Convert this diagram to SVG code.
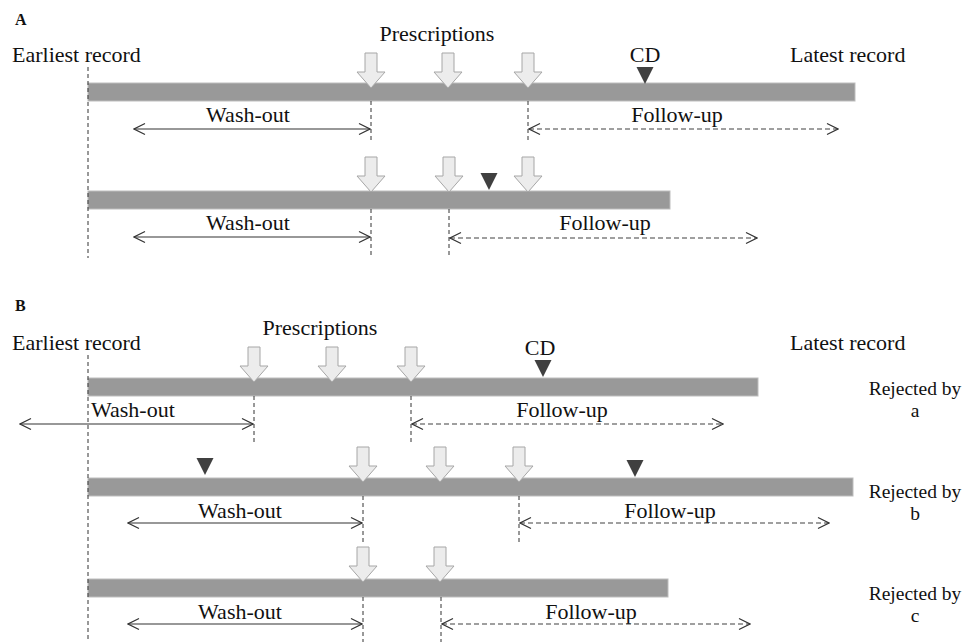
<svg xmlns="http://www.w3.org/2000/svg" width="972" height="642" viewBox="0 0 972 642" font-family="'Liberation Serif', 'DejaVu Serif', serif">
<style>
text{font-family:'Liberation Serif','Times New Roman',serif;fill:#111;font-size:22px}
.lbl{font-weight:bold;font-size:16px}
.rej{font-size:19.5px;text-anchor:middle}
.mid{text-anchor:middle}
.bar{fill:#999999;stroke:#bdbdbd;stroke-width:1}
.pres{fill:#ececec;stroke:#a6a6a6;stroke-width:1}
.cd{fill:#404040}
.vd{stroke:#333;stroke-width:1;stroke-dasharray:4,3;fill:none}
.ws{stroke:#333;stroke-width:1.2;fill:none}
.fu{stroke:#404040;stroke-width:1.2;stroke-dasharray:5,3;fill:none}
</style>
<defs>
<path id="parrow" class="pres" d="M-6,0 H6 V19 H14 L0,35 L-14,19 H-6 Z"/>
<path id="tri" class="cd" d="M-8.5,0 H8.5 L0,17 Z"/>
<marker id="ah" viewBox="0 0 14 14" refX="13" refY="7" markerWidth="14" markerHeight="14" markerUnits="userSpaceOnUse" orient="auto-start-reverse">
<path d="M2,1.5 L13,7 L2,12.5" fill="none" stroke="#333" stroke-width="1.2"/>
</marker>
</defs>
<rect width="972" height="642" fill="#ffffff"/>

<g id="panelA-labels">
<text class="lbl" x="15" y="25">A</text>
<text x="437" y="41" class="mid">Prescriptions</text>
<text x="12" y="62">Earliest record</text>
<text x="790" y="62">Latest record</text>
</g>

<g id="A1">
<rect class="bar" x="88" y="83" width="767" height="18"/>
<use href="#parrow" x="371" y="53"/>
<use href="#parrow" x="448" y="53"/>
<use href="#parrow" x="528" y="53"/>
<use href="#tri" x="645" y="67"/>
<text x="645" y="62" class="mid">CD</text>
<text x="248" y="122" class="mid">Wash-out</text>
<text x="677" y="122" class="mid">Follow-up</text>
</g>

<g id="A2">
<rect class="bar" x="88" y="191" width="582" height="18"/>
<use href="#parrow" x="371" y="157"/>
<use href="#parrow" x="449" y="157"/>
<use href="#parrow" x="528" y="157"/>
<use href="#tri" x="489" y="173"/>
<text x="248" y="230" class="mid">Wash-out</text>
<text x="605" y="230" class="mid">Follow-up</text>
</g>

<g id="panelB-labels">
<text class="lbl" x="15" y="311">B</text>
<text x="320" y="335" class="mid">Prescriptions</text>
<text x="12" y="350">Earliest record</text>
<text x="790" y="350">Latest record</text>
</g>

<g id="B1">
<rect class="bar" x="88" y="378" width="670" height="18"/>
<use href="#parrow" x="254" y="347"/>
<use href="#parrow" x="332" y="347"/>
<use href="#parrow" x="411" y="347"/>
<use href="#tri" x="543" y="360"/>
<text x="540" y="355" class="mid">CD</text>
<text x="91" y="417">Wash-out</text>
<text x="562" y="417" class="mid">Follow-up</text>
<text x="915" y="395" class="rej">Rejected by</text>
<text x="915" y="417" class="rej">a</text>
</g>

<g id="B2">
<rect class="bar" x="88" y="478" width="765" height="18"/>
<use href="#parrow" x="363" y="447"/>
<use href="#parrow" x="440" y="447"/>
<use href="#parrow" x="519" y="447"/>
<use href="#tri" x="205" y="458"/>
<use href="#tri" x="635" y="460"/>
<text x="240" y="518" class="mid">Wash-out</text>
<text x="670" y="518" class="mid">Follow-up</text>
<text x="915" y="498" class="rej">Rejected by</text>
<text x="915" y="520" class="rej">b</text>
</g>

<g id="B3">
<rect class="bar" x="88" y="579" width="580" height="18"/>
<use href="#parrow" x="363" y="547"/>
<use href="#parrow" x="440" y="547"/>
<text x="240" y="619" class="mid">Wash-out</text>
<text x="591" y="619" class="mid">Follow-up</text>
<text x="915" y="600" class="rej">Rejected by</text>
<text x="915" y="622" class="rej">c</text>
</g>

<g id="connectors">
<line class="vd" x1="88" y1="67" x2="88" y2="258"/>
<line class="vd" x1="371" y1="101" x2="371" y2="140"/>
<line class="vd" x1="528" y1="101" x2="528" y2="140"/>
<line class="vd" x1="371" y1="209" x2="371" y2="258"/>
<line class="vd" x1="449" y1="209" x2="449" y2="258"/>
<line class="vd" x1="88" y1="355" x2="88" y2="642"/>
<line class="vd" x1="254" y1="396" x2="254" y2="443"/>
<line class="vd" x1="411" y1="396" x2="411" y2="443"/>
<line class="vd" x1="363" y1="496" x2="363" y2="543"/>
<line class="vd" x1="519" y1="496" x2="519" y2="543"/>
<line class="vd" x1="363" y1="597" x2="363" y2="642"/>
<line class="vd" x1="441" y1="597" x2="441" y2="642"/>

<line class="ws" x1="134" y1="129" x2="370" y2="129" marker-start="url(#ah)" marker-end="url(#ah)"/>
<line class="fu" x1="529" y1="129" x2="838" y2="129" marker-start="url(#ah)" marker-end="url(#ah)"/>
<line class="ws" x1="134" y1="237" x2="370" y2="237" marker-start="url(#ah)" marker-end="url(#ah)"/>
<line class="fu" x1="450" y1="238" x2="757" y2="238" marker-start="url(#ah)" marker-end="url(#ah)"/>
<line class="ws" x1="20" y1="424" x2="253" y2="424" marker-start="url(#ah)" marker-end="url(#ah)"/>
<line class="fu" x1="412" y1="424" x2="723" y2="424" marker-start="url(#ah)" marker-end="url(#ah)"/>
<line class="ws" x1="128" y1="523" x2="362" y2="523" marker-start="url(#ah)" marker-end="url(#ah)"/>
<line class="fu" x1="520" y1="523" x2="829" y2="523" marker-start="url(#ah)" marker-end="url(#ah)"/>
<line class="ws" x1="128" y1="624" x2="362" y2="624" marker-start="url(#ah)" marker-end="url(#ah)"/>
<line class="fu" x1="442" y1="624" x2="750" y2="624" marker-start="url(#ah)" marker-end="url(#ah)"/>
</g>
</svg>
